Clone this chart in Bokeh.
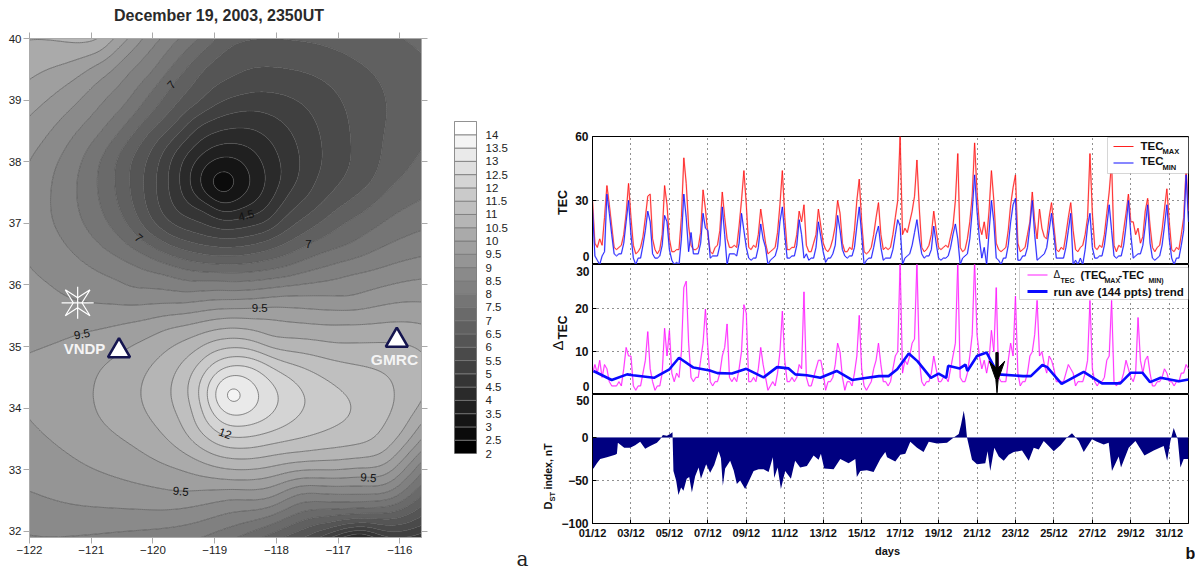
import numpy as np
from bokeh.plotting import figure
from bokeh.layouts import row, column
from bokeh.models import Range1d, LinearAxis, FixedTicker, Label, BoxAnnotation
from bokeh.embed import file_html
from bokeh.resources import INLINE

t105_corner = [(-122,40.0),(-121.5,39.97),(-120.9,39.95),(-120.86,40.0)]
t10_a = [(-122,39.32),(-121.4,39.59),(-120.91,39.75),(-120.75,39.86),(-120.64,40)]
t95_a = [(-122,38.74),(-121.5,39.18),(-120.96,39.59),(-120.64,39.8),(-120.4,40)]
t9_a = [(-122,38.02),(-121.77,38.34),(-121.23,38.94),(-120.69,39.45),(-120.18,40),(-122,36.29),(-121.67,36.02),(-121.4,35.8),(-121.02,35.69),(-119.78,35.69),(-118.26,35.78),(-117.89,35.82),(-116.81,35.77),(-115.67,36.1)]
t85_a = [(-121.65,37.48),(-121.58,37.91),(-121.23,38.5),(-120.75,39.05),(-120.32,39.53),(-119.88,40),(-121.64,37.1),(-121.45,36.72),(-121.07,36.34),(-120.59,36.1),(-120.32,35.92),(-119.51,35.87),(-118.7,35.9),(-117.89,36.02),(-116.81,36.2),(-115.67,36.45)]
t8_a = [(-121.23,37.42),(-121.18,37.91),(-120.86,38.45),(-120.42,38.94),(-119.99,39.45),(-119.59,40),(-121.13,36.99),(-120.8,36.59),(-120.32,36.34),(-119.78,36.18),(-118.97,36.07),(-117.89,36.07),(-116.81,36.4),(-115.67,36.88)]
t75_a = [(-120.9,37.59),(-120.86,38.02),(-120.53,38.5),(-120.1,39.05),(-119.61,39.64),(-119.24,40),(-120.8,37.15),(-120.53,36.77),(-120.05,36.45),(-119.51,36.26),(-118.97,36.21),(-117.89,36.29),(-116.81,36.64),(-115.67,37.37)]
t7_a = [(-120.61,37.67),(-120.59,38.02),(-120.32,38.45),(-119.94,38.89),(-119.71,39.26),(-119.29,39.7),(-118.99,40),(-120.5,37.15),(-120.23,36.76),(-119.78,36.5),(-118.97,36.33),(-118.16,36.4),(-117.48,36.67),(-116.91,37.03),(-116.27,37.52),(-115.67,38.16)]
t65_a = [(-120.38,37.67),(-120.34,38.07),(-120.05,38.5),(-119.61,38.94),(-119.18,39.53),(-118.75,39.9),(-117.72,39.97),(-116.81,39.7),(-116.38,39.37),(-116.21,38.89),(-116.29,38.35),(-116.43,37.65),(-116.81,37.37),(-117.48,36.88),(-120.26,37.15),(-119.78,36.69),(-118.97,36.48),(-118.16,36.56)]
t6_a = [(-120.15,37.67),(-120.07,38.07),(-119.67,38.56),(-119.24,38.94),(-118.7,39.35),(-117.89,39.51),(-117.24,39.32),(-116.81,38.45),(-116.97,37.65),(-117.48,37.15),(-120.05,37.1),(-119.67,36.77),(-118.97,36.61),(-118.16,36.72)]
t55 = [(-119.94,37.67),(-119.88,38.07),(-119.45,38.61),(-118.97,38.94),(-118.16,39.13),(-117.62,38.97),(-117.27,38.24),(-117.4,37.65),(-117.48,37.42),(-117.89,37.1),(-119.78,37.05),(-118.97,36.76),(-118.16,36.88)]
t5_a = [(-119.75,37.67),(-119.67,38.13),(-119.24,38.61),(-118.43,38.83),(-117.94,38.67),(-117.62,38.02),(-117.66,37.65),(-117.83,37.53),(-118.0,37.2),(-119.56,37.15),(-118.97,36.91),(-118.16,36.99)]
t45_a = [(-119.56,37.67),(-119.4,38.18),(-118.97,38.48),(-118.37,38.53),(-117.97,38.07),(-117.94,37.59),(-118.2,37.2),(-118.49,37.13),(-119.13,37.26)]
t4 = [(-119.4,37.67),(-119.18,38.13),(-118.7,38.29),(-118.21,37.91),(-118.26,37.42),(-118.8,37.18),(-119.24,37.37)]
t35 = [(-119.24,37.67),(-118.91,38.07),(-118.45,37.8),(-118.59,37.42),(-118.97,37.32)]
t3 = [(-119.07,37.65),(-118.89,37.86),(-118.67,37.65),(-118.89,37.45)]
t26 = [(-118.88,37.65)]
t95_b = [(-122,34.9),(-121.56,35.06),(-121.07,35.25),(-120.42,35.39),(-119.78,35.51),(-118.97,35.61),(-118.26,35.63),(-117.62,35.63),(-116.81,35.6),(-115.67,35.72),(-122,33.82),(-121.4,33.28),(-120.32,32.79),(-119.56,32.63),(-118.7,32.68),(-118.1,32.72),(-116.64,32.9),(-116.32,32.88),(-115.67,33.47)]
t10_b = [(-120.96,34.31),(-120.86,34.63),(-120.59,34.85),(-120.05,35.15),(-119.75,35.31),(-118.94,35.45),(-118.1,35.48),(-116.91,35.37),(-115.67,35.37),(-120.86,33.82),(-120.32,33.39),(-119.51,33.0),(-118.7,32.82),(-118.1,32.88),(-117.02,32.99),(-116.27,33.07),(-115.67,33.74)]
t105_b = [(-120.2,34.29),(-120.07,34.64),(-119.75,34.96),(-119.37,35.15),(-118.72,35.31),(-118.1,35.12),(-117.02,35.04),(-116.21,35.07),(-115.67,34.96),(-120.13,33.96),(-119.75,33.47),(-119.26,33.15),(-118.67,33.0),(-118.1,33.04),(-117.02,33.15),(-116.27,33.26),(-115.94,33.61),(-115.67,34.04)]
t11 = [(-119.71,34.2),(-119.64,34.56),(-119.32,34.91),(-118.72,35.12),(-117.94,34.94),(-117.02,34.77),(-116.27,34.58),(-116.11,34.29),(-116.27,33.74),(-116.59,33.42),(-117.56,33.28),(-118.1,33.23),(-118.67,33.18),(-119.26,33.37),(-119.56,33.8),(-119.67,34.01)]
t115 = [(-119.42,34.2),(-119.34,34.61),(-119.1,34.88),(-118.72,34.99),(-117.94,34.77),(-117.56,34.66),(-117.02,34.34),(-116.77,34.01),(-117.02,33.72),(-117.67,33.5),(-118.1,33.42),(-118.67,33.35),(-119.15,33.55),(-119.34,33.96)]
t12 = [(-119.25,34.2),(-119.15,34.58),(-118.72,34.83),(-118.07,34.66),(-117.78,34.5),(-117.53,34.18),(-117.59,33.96),(-118.1,33.61),(-118.83,33.53),(-119.15,33.77)]
t125 = [(-119.13,34.2),(-118.88,34.64),(-118.34,34.66),(-117.97,34.2),(-118.13,33.85),(-118.62,33.72),(-119.0,33.91)]
t13 = [(-118.99,34.2),(-118.78,34.52),(-118.45,34.45),(-118.29,34.2),(-118.45,33.93),(-118.72,33.88),(-118.91,33.99)]
t135 = [(-118.88,34.2),(-118.73,34.37),(-118.57,34.2),(-118.73,34.06)]
t139 = [(-118.72,34.2)]
t9_c = [(-122,32.66),(-121.13,32.41),(-120.32,32.36),(-119.51,32.38),(-118.7,32.55),(-118.1,32.52),(-116.81,32.74),(-116.16,32.79),(-115.67,33.28)]
t85_c = [(-121.72,31.9),(-120.32,32.01),(-119.13,32.2),(-117.62,32.63),(-116.81,32.6),(-116.16,32.63),(-115.67,33.12)]
t8_c = [(-119.18,31.9),(-117.62,32.47),(-116.81,32.47),(-116.16,32.52),(-115.67,32.93)]
t75_c = [(-118.62,31.9),(-117.62,32.3),(-116.81,32.36),(-116.16,32.41),(-115.67,32.74)]
t7_c = [(-118.24,31.9),(-117.62,32.17),(-116.81,32.28),(-116.16,32.31),(-115.67,32.58)]
t65_c = [(-117.89,31.9),(-117.35,32.12),(-116.7,32.2),(-116.1,32.2),(-115.67,32.39)]
t6_c = [(-117.51,31.9),(-117.08,32.03),(-116.7,32.12),(-116.16,32.09),(-115.67,32.22)]
t55_c = [(-117.29,31.9),(-116.7,32.06),(-116.1,31.98),(-115.67,32.09)]
t5_c = [(-117.13,31.9),(-116.7,32.0),(-116.27,31.9)]
t45_c = [(-116.97,31.9),(-116.7,31.95),(-116.43,31.9)]
t33_c = [(-116.66,31.9)]
traces = [(10.5,t105_corner),(10,t10_a),(9.5,t95_a),(9,t9_a),(8.5,t85_a),(8,t8_a),(7.5,t75_a),(7,t7_a),(6.5,t65_a),(6,t6_a),(5.5,t55),(5,t5_a),(4.5,t45_a),(4,t4),(3.5,t35),(3,t3),(2.6,t26),
          (9.5,t95_b),(10,t10_b),(10.5,t105_b),(11,t11),(11.5,t115),(12,t12),(12.5,t125),(13,t13),(13.5,t135),(13.9,t139),
          (9,t9_c),(8.5,t85_c),(8,t8_c),(7.5,t75_c),(7,t7_c),(6.5,t65_c),(6,t6_c),(5.5,t55_c),(5,t5_c),(4.5,t45_c),(3.3,t33_c)]
bar_levels = [2,2.5,3,3.5,4,4.5,5,5.5,6,6.5,7,7.5,8,8.5,9,9.5,10,10.5,11,11.5,12,12.5,13,13.5,14,14.5]
map_lon_ticks = [-122,-121,-120,-119,-118,-117,-116]
map_lat_ticks = [32,33,34,35,36,37,38,39,40]
contour_label_lon = [-119.7,-120.23,-118.49,-117.48,-118.27,-121.15,-119.55,-116.51,-118.83]
contour_label_lat = [39.25,36.76,37.13,36.67,35.63,35.2,32.65,32.87,33.59]
contour_label_txt = ["7","7","4.5","7","9.5","9.5","9.5","9.5","12"]
contour_label_ang = [48,-40,15,0,0,10,-5,-5,-20]
station_lon = [-120.55,-116.05]
station_lat = [34.93,35.1]

# ---- panel b: three-hourly readings, one row per day 01..31 plus the closing value
tec_max = [30,10,8,12,9,22,37,28, 18,8,7,8,9,14,24,38, 22,9,5,6,8,13,22,32, 33,12,7,5,7,14,37,28, 12,6,6,7,7,22,50,38,
 18,9,7,7,8,15,35,26, 14,6,5,8,9,16,34,22, 12,8,8,9,8,18,30,44, 28,8,7,9,8,14,26,18, 10,5,6,7,8,15,28,44,
 22,7,7,8,8,14,25,20, 28,9,6,6,10,14,26,18, 10,7,6,8,12,18,30,24, 10,6,6,8,7,16,30,40, 20,6,5,6,8,14,22,29,
 14,7,8,7,8,14,22,30, 60,14,17,15,20,25,32,49, 26,8,6,7,9,14,25,16, 8,7,8,9,8,13,18,30, 52,8,6,7,12,20,32,57,
 34,18,14,20,12,25,44,30, 10,7,6,7,8,16,28,36, 42,10,6,7,8,14,20,34, 20,12,26,17,13,12,22,29, 18,7,6,8,7,14,22,29,
 16,7,6,8,9,14,22,52, 24,8,7,9,8,14,24,34, 48,9,6,9,8,16,24,33, 20,20,14,17,10,13,25,31, 18,8,6,8,9,16,26,35.5,
 20,7,6,8,7,14,22,45, 25]
tec_min = [26,4,2,0,4,6,33,24, 14,5,4,5,5,10,20,30, 14,3,0,3,3,9,16,25, 20,5,3,3,4,9,23,20, 7,2,0,1,0,12,33,22,
 6,15,5,5,5,10,24,17, 16,3,4,4,4,9,27,14, 0,5,5,5,4,10,24,16, 8,3,2,3,3,8,19,12, 8,0,2,3,4,8,20,27,
 14,3,3,4,4,9,21,14, 3,5,2,3,3,8,20,13, 6,1,3,3,5,9,23,16, 7,4,3,4,4,8,18,27, 14,0,2,3,3,8,14,18,
 8,2,3,3,3,7,14,21, 18,0,3,4,5,9,15,21, 12,5,3,4,4,7,18,10, 3,2,3,3,4,8,14,19, 12,0,3,4,5,12,25,42,
 25,12,3,8,0,15,30,20, 3,2,0,3,3,9,20,28, 31,2,2,4,4,8,18,30, 14,2,3,4,5,8,16,24, 14,3,3,3,3,8,16,24,
 0,2,0,3,0,7,18,24, 8,3,3,4,4,9,18,28, 16,4,3,4,4,9,18,30, 14,3,4,5,5,9,18,28, 10,3,2,3,4,9,18,28,
 12,3,0,3,3,9,16,42, 20]
delta_tec = [5,7,5,8,4,7,6,3, 2,2,2,3,2,6,11,9, 9,2,1,2,2,5,8,14.7, 6,3,1,2,2,5,15.5,9, 15,5,3,5,4,10,25,26.5,
 12,4,3,4,4,8,12,20, 11,3,2,3,3,5,9,11, 16.5,4,3,4,3,6,10,21, 19,3,3,4,3,6,11,7, 4,1,2,3,2,5,10,19.5,
 8,3,3,4,3,4,7,6, 24,4,2,2,4,6,8,8, 5,1,3,3,4,7,12,10, 4,1,3,3,2,5,9,18.5, 6,2,1,2,3,6,8,12,
 7,3,3,2,3,6,9,10, 31,5,8,7,9,12,13,31, 8,3,2,3,3,5,9,6, 3,3,4,4,3,6,9,12, 31,4,3,3,5,9,14,31,
 14,9,6,8,5,8,15,10, 25,4,3,3,3,8,12,9, 23,5,2,3,3,5,9,10, 14,22,9,10,7,5,9,8, 6,3,3,3,3,5,7,6,
 5,2,3,3,3,5,8,22, 6,3,2,3,3,4,8,9, 22,3,2,3,3,5,8,6, 4,3,5,18,8,5,8,9, 5,2,2,3,3,4,6,5,
 3,3,2,3,3,5,5,7, 6]
trend_day = [1.05,2.0,2.8,3.1,4.2,5.0,5.5,6.25,7.1,7.5,8.25,9,9.9,10.6,11.2,11.55,12.15,12.85,13.7,14.5,15.1,15.9,16.4,16.85,17.45,17.9,18.6,19.0,19.4,19.5,20.1,20.4,20.5,21,21.5,22.1,23.4,23.8,24.4,24.65,25.4,26.55,27.5,28.45,29,29.6,30.0,30.55,31.5,32]
trend_val = [5.5,3.4,4.7,4.5,3.9,5.9,8.6,6.3,5.6,5,4.9,6,4,6.4,6.1,4.7,4.5,3.9,5.5,3.4,3.8,4.3,4.3,5.9,9.6,7.8,3.9,4.9,3.9,6.7,6.1,7,5.5,9,9.8,4.7,4.3,4.3,6.9,6.4,2.5,5.3,2.6,2.6,5.1,5.1,2.9,3.9,3.1,3.5]
dst_day = [1,1.05,1.23,1.4,1.75,2.18,2.27,2.32,2.65,2.96,3.22,3.48,3.74,4.0,4.35,4.52,4.66,4.87,5.04,5.16,5.21,5.35,5.47,5.61,5.73,5.9,6.03,6.17,6.34,6.52,6.64,6.91,7.12,7.33,7.56,7.68,7.78,7.9,8.16,8.34,8.51,8.68,8.94,9.15,9.38,9.64,9.9,10.16,10.38,10.45,10.63,10.8,11.02,11.32,11.54,11.8,12.15,12.5,12.76,12.88,13.05,13.54,13.89,14.32,14.67,14.75,14.93,15.27,15.62,15.97,16.23,16.32,16.75,17.01,17.27,17.53,17.88,18.22,18.49,18.92,19.44,19.79,20.05,20.17,20.31,20.39,20.48,20.74,21.0,21.43,21.55,21.69,21.9,22.13,22.39,22.65,22.91,23.34,23.69,23.95,24.21,24.47,24.73,24.99,25.34,25.68,25.94,26.29,26.55,26.98,27.24,27.59,27.85,28.02,28.37,28.49,28.89,29.24,29.71,30.19,30.71,30.89,31.06,31.23,31.44,31.58,31.75,32]
dst_val = [-36,-36,-30,-25,-23,-20,-19,-6,-12,-12,-9,-5,-13,-10,-6,-2,3,2,4,6,-39,-50,-67,-58,-62,-48,-46,-64,-45,-35,-48,-31,-41,-32,-16,-24,-56,-36,-27,-38,-54,-50,-60,-50,-39,-37,-37,-40,-23,-47,-35,-60,-39,-48,-27,-35,-33,-21,-26,-19,-36,-37,-25,-30,-25,-46,-39,-38,-40,-25,-17,-23,-28,-20,-19,-5,-12,-17,-5,-7,-6,0,4,15,31,20,0,-26,-31,-30,-16,-39,-12,-22,-27,-20,-17,-15,-27,-12,-14,-4,-10,-16,-9,0,5,-4,-17,-2,-5,-8,-6,-39,-22,-35,-12,-4,-21,-15,-10,-27,-4,11,-2,-35,-25,-25]
day_ticks = list(range(1,32,2))
day_labels = ["01/12","03/12","05/12","07/12","09/12","11/12","13/12","15/12","17/12","19/12","21/12","23/12","25/12","27/12","29/12","31/12"]
arrow_day = [21.98,22.1,22.1,22.44,22.1,22.04,21.98,21.64,21.98]
arrow_val = [9.8,9.8,6.2,7.8,3.5,0.4,3.5,7.8,6.2]

SANS = "Liberation Sans"

def lab(p, ox, oy, x, y, text, size, bold=True, color="#111111", font=SANS, align="left", base="middle", angle=0, side=None):
    L = Label(x=x-ox, y=y-oy, x_units="canvas", y_units="canvas", text=text, level="overlay",
              text_font=font, text_font_size=f"{size}px", text_font_style="bold" if bold else "normal",
              text_color=color, text_align=align, text_baseline=base, angle=angle)
    if side:
        p.add_layout(L, side)
    else:
        p.add_layout(L)

# ---------- map: surface through the traced contour samples
pts = np.array([(a, b, lev) for lev, tr in traces for a, b in tr], float)
px_, py_, pz_ = pts[:,0], pts[:,1], pts[:,2]
def _phi(r2):
    out = np.zeros_like(r2)
    m_ = r2 > 0
    out[m_] = 0.5*r2[m_]*np.log(r2[m_])
    return out
n = len(pts)
K = _phi((px_[:,None]-px_[None,:])**2 + (py_[:,None]-py_[None,:])**2) + 0.06*np.eye(n)
P = np.column_stack([np.ones(n), px_, py_])
A = np.block([[K, P],[P.T, np.zeros((3,3))]])
sol = np.linalg.solve(A, np.concatenate([pz_, np.zeros(3)]))
gx = np.linspace(-122, -115.65, 190)
gy = np.linspace(31.9, 40, 240)
GX, GY = np.meshgrid(gx, gy)
gr = _phi((GX.ravel()[:,None]-px_[None,:])**2 + (GY.ravel()[:,None]-py_[None,:])**2)
Z = gr @ sol[:n] + sol[n] + sol[n+1]*GX.ravel() + sol[n+2]*GY.ravel()
Z = Z.reshape(GX.shape)
_k = np.exp(-0.5*(np.arange(-8,9)/2.5)**2); _k /= _k.sum()
def _blur(a, axis):
    pad = [(8,8) if i==axis else (0,0) for i in range(2)]
    b = np.pad(a, pad, mode="reflect", reflect_type="odd")
    return np.apply_along_axis(lambda v: np.convolve(v, _k, mode="valid"), axis, b)
Z = np.clip(_blur(_blur(Z,0),1), 2.01, 14.49)

def gray(i, total=25):
    v = int(round(255*i/(total-1)))
    return f"#{v:02x}{v:02x}{v:02x}"
palette = [gray(i) for i in range(25)]

m = figure(width=446, height=570, x_range=Range1d(-122,-115.65), y_range=Range1d(31.9,40), frame_align=False,
           output_backend="svg", toolbar_location=None, min_border_left=29, min_border_right=25,
           min_border_top=38, min_border_bottom=33, outline_line_color="#aaaaaa")
m.grid.visible = False
m.contour(gx, gy, Z, bar_levels, fill_color=palette, line_color="#505050", line_width=0.9, line_alpha=0.75)
for ax, tk in ((m.xaxis[0], map_lon_ticks), (m.yaxis[0], map_lat_ticks)):
    ax.ticker = FixedTicker(ticks=tk)
    ax.axis_line_color = "#aaaaaa"; ax.major_tick_line_color = "#aaaaaa"
    ax.major_tick_out = 6; ax.major_tick_in = 0; ax.minor_tick_out = 0; ax.minor_tick_in = 0
    ax.major_label_text_font = SANS; ax.major_label_text_font_size = "11.5px"
    ax.major_label_text_color = "#222222"; ax.major_label_standoff = 2
m.yaxis[0].major_label_orientation = "horizontal"
for pos, tk in (("above", map_lon_ticks), ("right", map_lat_ticks)):
    ax = LinearAxis(ticker=FixedTicker(ticks=tk), axis_line_color="#aaaaaa", major_tick_line_color="#aaaaaa",
                    major_tick_out=6, major_tick_in=0, minor_tick_out=0, minor_tick_in=0,
                    major_label_text_color=None, major_label_standoff=0)
    m.add_layout(ax, pos)
for tx, ty, tt, ta in zip(contour_label_lon, contour_label_lat, contour_label_txt, contour_label_ang):
    m.text(x=[tx], y=[ty], text=[tt], angle=ta, angle_units="deg", text_align="center", text_baseline="middle",
           text_font_size="11.5px", text_color="#111111")
# star marker
star_lon, star_lat = -121.22, 35.71
sdx = np.array([0.2,0.07,0.2,0.0,-0.2,-0.07,-0.2,0.0,0.2])
sdy = np.array([0.21,0,-0.21,-0.08,-0.21,0,0.21,0.08,0.21])
m.line(star_lon+sdx, star_lat+sdy, line_color="white", line_width=1.2)
m.segment([star_lon-0.26, star_lon], [star_lat, star_lat-0.26], [star_lon+0.26, star_lon], [star_lat, star_lat+0.26], line_color="white", line_width=1.2)
m.scatter(station_lon, station_lat, marker="triangle", size=22, fill_color="white", line_color="#15154f", line_width=2.6)
lab(m, 0, 0, 218.5, 15, "December 19, 2003, 2350UT", 16, color="#2a2a2a", align="center", side="above")
lab(m, 0, 0, 84, 348, "VNDP", 15, color="#f4f4f4", align="center")
lab(m, 0, 0, 394, 359, "GMRC", 15.5, color="#f4f4f4", align="center")

# ---------- colour bar
c = figure(width=64, height=570, x_range=Range1d(0,1), y_range=Range1d(2,14.5), output_backend="svg", frame_align=False,
           toolbar_location=None, min_border_left=8, min_border_right=34, min_border_top=121, min_border_bottom=117,
           outline_line_color="#888888")
c.grid.visible = False; c.xaxis.visible = False; c.yaxis.visible = False
c.quad(left=0, right=1, bottom=bar_levels[:-1], top=bar_levels[1:], fill_color=palette, line_color="#777777", line_width=0.8)
rax = LinearAxis(ticker=FixedTicker(ticks=bar_levels[:-1]), axis_line_color=None, major_tick_line_color=None,
                 minor_tick_line_color=None, major_label_text_font=SANS, major_label_text_font_size="11.5px",
                 major_label_text_color="#222222", major_label_standoff=3,
                 major_label_overrides={k: (str(int(k)) if float(k).is_integer() else str(k)) for k in bar_levels[:-1]})
c.add_layout(rax, "right")

# ---------- time series
t8 = 1 + np.arange(len(tec_max))/8

def panel(h, top, bottom, yr, yt, xlabels=False):
    p = figure(width=685, height=h, x_range=Range1d(1,32), y_range=Range1d(*yr), output_backend="svg", frame_align=False,
               toolbar_location=None, min_border_left=82, min_border_right=7, min_border_top=top,
               min_border_bottom=bottom, outline_line_color="black", background_fill_color="white")
    p.xgrid[0].ticker = FixedTicker(ticks=day_ticks)
    p.ygrid[0].ticker = FixedTicker(ticks=yt)
    for g in (p.xgrid[0], p.ygrid[0]):
        g.grid_line_color = "#222222"; g.grid_line_dash = "1 4"; g.grid_line_width = 1
    ya = p.yaxis[0]
    ya.ticker = FixedTicker(ticks=yt); ya.major_tick_in = 4; ya.major_tick_out = 0
    ya.minor_tick_in = 0; ya.minor_tick_out = 0; ya.axis_line_color = "black"
    ya.major_label_text_font = SANS; ya.major_label_text_font_size = "12px"
    ya.major_label_text_font_style = "bold"; ya.major_label_text_color = "#111111"
    ya.major_label_standoff = 4; ya.major_label_orientation = "horizontal"
    xa = p.xaxis[0]
    if xlabels:
        xa.ticker = FixedTicker(ticks=day_ticks); xa.major_tick_in = 4; xa.major_tick_out = 0
        xa.minor_tick_in = 0; xa.minor_tick_out = 0
        xa.major_label_overrides = dict(zip(day_ticks, day_labels))
        xa.major_label_text_font = SANS; xa.major_label_text_font_size = "11px"
        xa.major_label_text_font_style = "bold"; xa.major_label_text_color = "#111111"
        xa.major_label_standoff = 3
    else:
        xa.visible = False
    return p

OX = 510
# top panel: page y 0..264
f1 = panel(264, 136, 0, (0,60), [30,60])
f1.line(t8, tec_max, line_color="#ff9090", line_width=1.7, line_alpha=0.55)
f1.line(t8, tec_max, line_color="#ff1010", line_width=0.8)
f1.line(t8, tec_min, line_color="#9090ff", line_width=1.7, line_alpha=0.55)
f1.line(t8, tec_min, line_color="#0808ff", line_width=0.8)
lab(f1, OX, 0, 589, 256, "0", 12, align="right", side="left")
lab(f1, OX, 0, 562, 202, "TEC", 12.5, align="center", angle=np.pi/2, side="left")
f1.add_layout(BoxAnnotation(left=1107-OX, right=1188-OX, top=137, bottom=173, left_units="canvas", right_units="canvas",
                            top_units="canvas", bottom_units="canvas", fill_color="white", fill_alpha=1, line_color="#777777", line_width=1))
for yy, col in ((145.5, "#ff2020"), (162, "#1010ff")):
    f1.add_layout(BoxAnnotation(left=1113-OX, right=1133-OX, top=yy, bottom=yy+1, left_units="canvas", right_units="canvas",
                                top_units="canvas", bottom_units="canvas", fill_color=col, fill_alpha=1, line_alpha=0))
lab(f1, OX, 0, 1140, 145, "TEC", 11.5)
lab(f1, OX, 0, 1162, 151, "MAX", 7.5)
lab(f1, OX, 0, 1140, 160, "TEC", 11.5)
lab(f1, OX, 0, 1162, 167, "MIN", 7.5)

# middle panel: page y 264..394
f2 = panel(130, 0, 0, (0,30.4), [10,20])
f2.line(t8, delta_tec, line_color="#ffa0ff", line_width=1.7, line_alpha=0.55)
f2.line(t8, delta_tec, line_color="#ff10ff", line_width=0.8)
f2.line(trend_day, trend_val, line_color="#0a0aff", line_width=2.6)
f2.patch(arrow_day, arrow_val, fill_color="black", line_color="black", level="overlay")
lab(f2, OX, 264, 589, 271, "30", 12, align="right", side="left")
lab(f2, OX, 264, 589, 386, "0", 12, align="right", side="left")
lab(f2, OX, 264, 557, 345, "\u0394", 15, bold=False, align="center", angle=np.pi/2, side="left")
lab(f2, OX, 264, 562, 327, "TEC", 12, align="center", angle=np.pi/2, side="left")
f2.add_layout(BoxAnnotation(left=1019-OX, right=1188-OX, top=3, bottom=35, left_units="canvas", right_units="canvas",
                            top_units="canvas", bottom_units="canvas", fill_color="white", fill_alpha=1, line_color="#777777", line_width=1))
f2.add_layout(BoxAnnotation(left=1027-OX, right=1047-OX, top=10, bottom=11, left_units="canvas", right_units="canvas",
                            top_units="canvas", bottom_units="canvas", fill_color="#ff20ff", fill_alpha=1, line_alpha=0))
f2.add_layout(BoxAnnotation(left=1027-OX, right=1047-OX, top=25.5, bottom=28.5, left_units="canvas", right_units="canvas",
                            top_units="canvas", bottom_units="canvas", fill_color="#0a0aff", fill_alpha=1, line_alpha=0))
lab(f2, OX, 264, 1053, 274, "\u0394", 10, bold=False)
lab(f2, OX, 264, 1060, 280, "TEC", 7)
lab(f2, OX, 264, 1080, 274, "(TEC", 11)
lab(f2, OX, 264, 1104, 280, "MAX", 7)
lab(f2, OX, 264, 1118, 274, "-TEC", 11)
lab(f2, OX, 264, 1148, 280, "MIN)", 7)
lab(f2, OX, 264, 1053, 291, "run ave (144 ppts) trend", 11.5)

# bottom panel: page y 394..543
f3 = panel(149, 0, 20, (-100,50), [-100,-50,0], xlabels=True)
f3.varea(dst_day, [0]*len(dst_day), dst_val, fill_color="#000080")
f3.line([1,32],[0,0], line_color="#7070b8", line_width=1)
lab(f3, OX, 394, 589, 400, "50", 12, align="right", side="left")
lab(f3, OX, 394, 547, 509, "D", 11, angle=np.pi/2, side="left")
lab(f3, OX, 394, 552, 501, "ST", 7.5, angle=np.pi/2, side="left")
lab(f3, OX, 394, 547, 489, "index, nT", 10.5, angle=np.pi/2, side="left")

# footer strip: page y 543..570, holds the axis title and the panel letters
f4 = figure(width=685, height=27, x_range=Range1d(0,1), y_range=Range1d(0,1), output_backend="svg", frame_align=False,
            toolbar_location=None, min_border=0, outline_line_color=None)
f4.grid.visible = False; f4.xaxis.visible = False; f4.yaxis.visible = False
lab(f4, OX, 543, 887, 550, "days", 11, align="center")
lab(f4, OX, 543, 522, 558, "a", 20, bold=False, font="DejaVu Serif", align="center", color="#222222")
lab(f4, OX, 543, 1190, 553, "b", 16, align="center")

right = column(f1, f2, f3, f4, spacing=0)
page = row(m, c, right, spacing=0)
open("out.html", "w").write(file_html(page, INLINE))
